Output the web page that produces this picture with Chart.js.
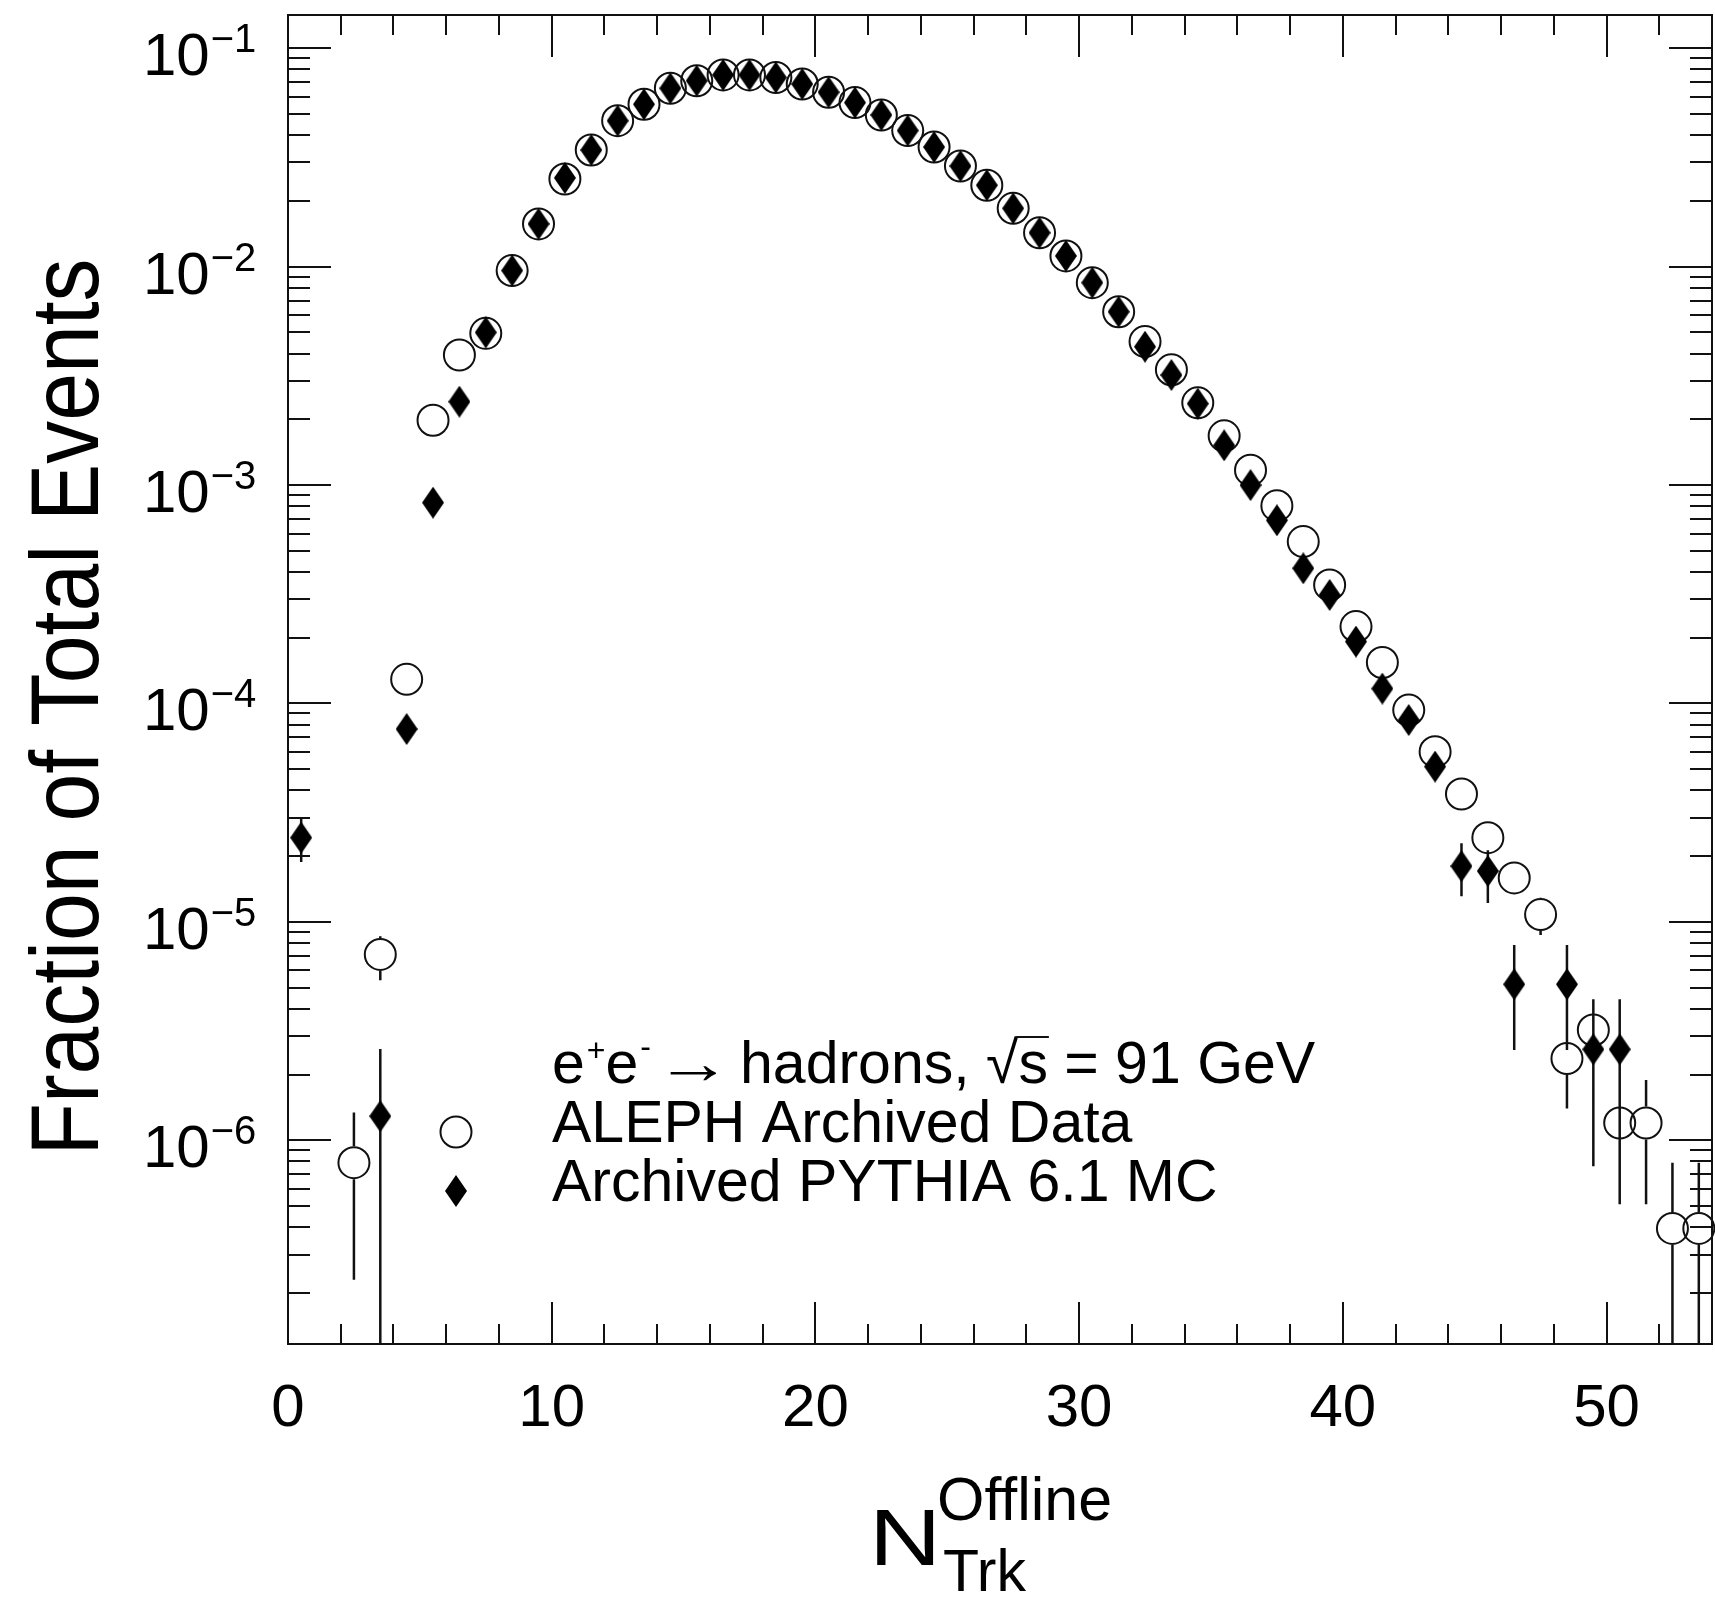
<!DOCTYPE html>
<html>
<head>
<meta charset="utf-8">
<script src="https://cdn.jsdelivr.net/npm/chart.js@4.4.1/dist/chart.umd.min.js"></script>
<style>
  html, body { margin: 0; padding: 0; background: #fff; }
  canvas { display: block; }
</style>
</head>
<body>
<canvas id="chart" width="1715" height="1599"></canvas>
<script>
// ALEPH archived data, fraction of events per N_Trk bin (bin centres)
const alephX = [2.5, 3.5, 4.5, 5.5, 6.5, 7.5, 8.5, 9.5, 10.5, 11.5, 12.5, 13.5, 14.5, 15.5, 16.5, 17.5,
  18.5, 19.5, 20.5, 21.5, 22.5, 23.5, 24.5, 25.5, 26.5, 27.5, 28.5, 29.5, 30.5, 31.5, 32.5, 33.5,
  34.5, 35.5, 36.5, 37.5, 38.5, 39.5, 40.5, 41.5, 42.5, 43.5, 44.5, 45.5, 46.5, 47.5, 48.5, 49.5,
  50.5, 51.5, 52.5, 53.5];
const alephY = [7.9e-7, 7.1e-6, 1.29e-4, 1.98e-3, 3.94e-3, 4.95e-3, 9.6e-3, 1.57e-2, 2.52e-2, 3.42e-2,
  4.66e-2, 5.54e-2, 6.56e-2, 7.1e-2, 7.55e-2, 7.55e-2, 7.35e-2, 6.86e-2, 6.29e-2, 5.64e-2, 4.95e-2,
  4.2e-2, 3.53e-2, 2.89e-2, 2.36e-2, 1.85e-2, 1.43e-2, 1.12e-2, 8.45e-3, 6.22e-3, 4.54e-3, 3.37e-3,
  2.38e-3, 1.68e-3, 1.17e-3, 8.05e-4, 5.51e-4, 3.49e-4, 2.25e-4, 1.54e-4, 9.33e-5, 6.02e-5, 3.85e-5,
  2.43e-5, 1.59e-5, 1.08e-5, 2.37e-6, 3.2e-6, 1.2e-6, 1.2e-6, 3.95e-7, 3.95e-7];
// visible error bars only
const alephErrX  = [2.5, 3.5, 46.5, 47.5, 48.5, 49.5, 50.5, 51.5, 52.5, 53.5];
const alephErrLo = [2.3e-7, 5.4e-6, 1.34e-5, 8.7e-6, 1.40e-6, 2.07e-6, 5.1e-7, 5.1e-7, 0, 0];
const alephErrHi = [1.34e-6, 8.6e-6, 1.84e-5, 1.29e-5, 3.34e-6, 4.33e-6, 1.89e-6, 1.89e-6, 7.9e-7, 7.9e-7];

// archived PYTHIA 6.1 MC
const pythiaX = [0.5, 3.5, 4.5, 5.5, 6.5, 7.5, 8.5, 9.5, 10.5, 11.5, 12.5, 13.5, 14.5, 15.5, 16.5,
  17.5, 18.5, 19.5, 20.5, 21.5, 22.5, 23.5, 24.5, 25.5, 26.5, 27.5, 28.5, 29.5, 30.5, 31.5, 32.5,
  33.5, 34.5, 35.5, 36.5, 37.5, 38.5, 39.5, 40.5, 41.5, 42.5, 43.5, 44.5, 45.5, 46.5, 48.5, 49.5, 50.5];
const pythiaY = [2.43e-5, 1.29e-6, 7.64e-5, 8.31e-4, 2.41e-3, 5.0e-3, 9.6e-3, 1.57e-2, 2.55e-2, 3.42e-2,
  4.66e-2, 5.54e-2, 6.56e-2, 7.1e-2, 7.55e-2, 7.55e-2, 7.35e-2, 6.86e-2, 6.29e-2, 5.64e-2, 4.95e-2,
  4.2e-2, 3.53e-2, 2.89e-2, 2.36e-2, 1.85e-2, 1.43e-2, 1.12e-2, 8.45e-3, 6.22e-3, 4.30e-3, 3.19e-3,
  2.36e-3, 1.52e-3, 1.0e-3, 6.9e-4, 4.16e-4, 3.14e-4, 1.92e-4, 1.17e-4, 8.4e-5, 5.14e-5, 1.8e-5,
  1.71e-5, 5.18e-6, 5.18e-6, 2.61e-6, 2.61e-6];
const pythiaErrX  = [0.5, 3.5, 44.5, 45.5, 46.5, 48.5, 49.5, 50.5];
const pythiaErrLo = [1.88e-5, 0, 1.31e-5, 1.22e-5, 2.59e-6, 2.59e-6, 7.6e-7, 7.6e-7];
const pythiaErrHi = [2.97e-5, 2.62e-6, 2.29e-5, 2.13e-5, 7.83e-6, 7.83e-6, 4.43e-6, 4.43e-6];

const xTickLabels = ['0', '10', '20', '30', '40', '50'];
const yTickExponents = [-1, -2, -3, -4, -5, -6];
const legendLabels = ['ALEPH Archived Data', 'Archived PYTHIA 6.1 MC'];

const FONT = '"Liberation Sans", Arial, Helvetica, sans-serif';
const INK = '#111';
const CIRCLE_R = 15.5;

function makeDiamond(w, h) {
  const c = document.createElement('canvas');
  c.width = w;
  c.height = h;
  const g = c.getContext('2d');
  g.fillStyle = '#000';
  g.beginPath();
  g.moveTo(w / 2, 0);
  g.lineTo(w, h / 2);
  g.lineTo(w / 2, h);
  g.lineTo(0, h / 2);
  g.closePath();
  g.fill();
  return c;
}
const diamond = makeDiamond(22, 32);

// vertical error bars, ROOT style (gap at the open marker)
const errorBars = {
  id: 'errorBars',
  beforeDatasetsDraw(chart) {
    const {ctx, chartArea: a, scales: {x, y}} = chart;
    const sets = [
      {xs: alephErrX, lo: alephErrLo, hi: alephErrHi, cx: alephX, cy: alephY, gap: CIRCLE_R + 1},
      {xs: pythiaErrX, lo: pythiaErrLo, hi: pythiaErrHi, cx: pythiaX, cy: pythiaY, gap: 0}
    ];
    ctx.save();
    ctx.beginPath();
    ctx.rect(a.left, a.top, a.right - a.left, a.bottom - a.top);
    ctx.clip();
    ctx.strokeStyle = INK;
    ctx.lineWidth = 2.5;
    ctx.beginPath();
    for (const s of sets) {
      s.xs.forEach((xv, i) => {
        const px = x.getPixelForValue(xv);
        const pc = y.getPixelForValue(s.cy[s.cx.indexOf(xv)]);
        const pHi = y.getPixelForValue(s.hi[i]);
        const pLo = s.lo[i] > 0 ? y.getPixelForValue(s.lo[i]) : a.bottom;
        if (pHi < pc - s.gap) { ctx.moveTo(px, pHi); ctx.lineTo(px, pc - s.gap); }
        if (pLo > pc + s.gap) { ctx.moveTo(px, pc + s.gap); ctx.lineTo(px, pLo); }
      });
    }
    ctx.stroke();
    ctx.restore();
  }
};

// frame, inward ticks on all four sides, labels and legend
const frame = {
  id: 'frame',
  afterDraw(chart) {
    const {ctx, chartArea: a, scales: {x, y}} = chart;
    ctx.save();
    ctx.strokeStyle = INK;
    ctx.lineWidth = 2;
    ctx.strokeRect(a.left, a.top, a.right - a.left, a.bottom - a.top);

    ctx.beginPath();
    for (let v = 2; v < x.max; v += 2) {
      const px = Math.round(x.getPixelForValue(v));
      const len = v % 10 === 0 ? 42 : 20;
      ctx.moveTo(px, a.bottom); ctx.lineTo(px, a.bottom - len);
      ctx.moveTo(px, a.top); ctx.lineTo(px, a.top + len);
    }
    for (let e = -8; e <= 0; e++) {
      for (let m = 1; m <= 9; m++) {
        const v = m * Math.pow(10, e);
        if (v <= y.min || v >= y.max) continue;
        const py = Math.round(y.getPixelForValue(v));
        const len = m === 1 ? 43 : 22;
        ctx.moveTo(a.left, py); ctx.lineTo(a.left + len, py);
        ctx.moveTo(a.right, py); ctx.lineTo(a.right - len, py);
      }
    }
    ctx.stroke();

    ctx.fillStyle = '#000';
    ctx.textBaseline = 'alphabetic';

    // x tick labels
    ctx.font = `60px ${FONT}`;
    ctx.textAlign = 'center';
    for (const lab of xTickLabels) {
      ctx.fillText(lab, x.getPixelForValue(Number(lab)), a.bottom + 82);
    }

    // y tick labels 10^-n
    ctx.textAlign = 'left';
    for (const e of yTickExponents) {
      const py = y.getPixelForValue(Math.pow(10, e));
      ctx.font = `60px ${FONT}`;
      ctx.fillText('10', 143, py + 27);
      const w = ctx.measureText('10').width;
      ctx.font = `40px ${FONT}`;
      ctx.fillText('\u2212' + Math.abs(e), 143 + w + 1, py + 4);
    }

    // y title
    ctx.save();
    ctx.translate(98, 707);
    ctx.rotate(-Math.PI / 2);
    ctx.scale(0.885, 1);
    ctx.font = `97px ${FONT}`;
    ctx.textAlign = 'center';
    ctx.fillText('Fraction of Total Events', 0, 0);
    ctx.restore();

    // x title N_Trk^Offline
    ctx.textAlign = 'left';
    ctx.save();
    ctx.translate(869, 1565);
    ctx.scale(1.25, 1);
    ctx.font = `80px ${FONT}`;
    ctx.fillText('N', 0, 0);
    ctx.restore();
    ctx.font = `61px ${FONT}`;
    ctx.fillText('Offline', 937, 1520);
    ctx.font = `59px ${FONT}`;
    ctx.fillText('Trk', 943, 1591);

    // legend
    let cx = 552;
    const base = 1083;
    const put = (txt, size, dy) => {
      ctx.font = `${size}px ${FONT}`;
      ctx.fillText(txt, cx, base + dy);
      cx += ctx.measureText(txt).width;
    };
    put('e', 59, 0);
    cx += 2;
    put('+', 32, -22);
    put('e', 59, 0);
    cx += 2;
    put('-', 32, -26);
    // long thin arrow
    ctx.save();
    ctx.translate(655, base);
    ctx.scale(1.3, 1);
    ctx.font = `59px ${FONT}`;
    ctx.fillText('\u2192', 0, 0);
    ctx.restore();
    cx = 740;
    put('hadrons, ', 59, 0);
    put('\u221A', 59, 0);
    const sx = cx;
    put('s', 59, 0);
    ctx.lineWidth = 2;
    ctx.beginPath();
    ctx.moveTo(sx - 2, base - 46);
    ctx.lineTo(cx + 1, base - 46);
    ctx.stroke();
    put(' = 91 GeV', 59, 0);

    ctx.font = `59px ${FONT}`;
    ctx.fillText(legendLabels[0], 552, 1142);
    ctx.fillText(legendLabels[1], 552, 1201);

    ctx.lineWidth = 2;
    ctx.beginPath();
    ctx.arc(456, 1132, CIRCLE_R, 0, Math.PI * 2);
    ctx.stroke();
    ctx.drawImage(diamond, 456 - diamond.width / 2, 1191 - diamond.height / 2);
    ctx.restore();
  }
};

new Chart(document.getElementById('chart'), {
  type: 'scatter',
  data: {
    datasets: [
      {
        label: legendLabels[1],
        data: pythiaX.map((v, i) => ({x: v, y: pythiaY[i]})),
        pointStyle: diamond,
        pointRadius: 12,
        clip: false
      },
      {
        label: legendLabels[0],
        data: alephX.map((v, i) => ({x: v, y: alephY[i]})),
        pointStyle: 'circle',
        pointRadius: CIRCLE_R,
        borderWidth: 2,
        borderColor: INK,
        backgroundColor: 'rgba(0,0,0,0)',
        clip: false
      }
    ]
  },
  options: {
    responsive: false,
    animation: false,
    devicePixelRatio: 1,
    layout: {autoPadding: false, padding: {top: 15, right: 3, left: 0, bottom: 0}},
    plugins: {
      legend: {display: false},
      tooltip: {enabled: false}
    },
    scales: {
      x: {
        type: 'linear',
        min: 0,
        max: 54,
        grid: {display: false, drawTicks: false},
        border: {display: false},
        ticks: {display: false},
        afterFit: s => { s.height = 255; }
      },
      y: {
        type: 'logarithmic',
        min: 1.168e-7,
        max: 0.142,
        grid: {display: false, drawTicks: false},
        border: {display: false},
        ticks: {display: false},
        afterFit: s => { s.width = 288; }
      }
    }
  },
  plugins: [errorBars, frame]
});
</script>
</body>
</html>
